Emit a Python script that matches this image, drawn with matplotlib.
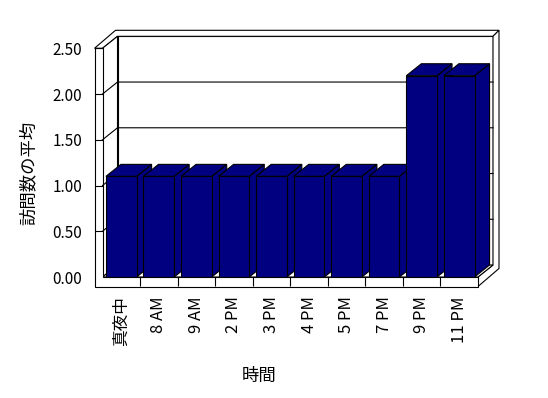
import numpy as np
import matplotlib.pyplot as plt
from matplotlib.patches import Polygon

plt.rcParams['font.family'] = ['Noto Sans CJK JP', 'DejaVu Sans']

# data
hours = ['真夜中', '8 AM', '9 AM', '2 PM', '3 PM', '4 PM', '5 PM', '7 PM', '9 PM', '11 PM']
avg_visits = [1.1, 1.1, 1.1, 1.1, 1.1, 1.1, 1.1, 1.1, 2.2, 2.2]
y_ticks = [0.0, 0.5, 1.0, 1.5, 2.0, 2.5]
y_labels = ['0.00', '0.50', '1.00', '1.50', '2.00', '2.50']

navy = '#000080'
lw = 0.8

fig = plt.figure(figsize=(5.48, 3.98), dpi=100)
ax = fig.add_axes([102.5 / 548, 121 / 398, 375.5 / 548, 228.7 / 398])
n = len(hours)
x0, x1 = -0.5, n - 0.5
top = y_ticks[-1]
ax.set_xlim(x0, x1)
ax.set_ylim(0, top)

# pseudo 3D offsets, converted from pixels to data units
sx = 375.5 / n
sy = 228.7 / top
d1x, d1y = 15 / sx, 12 / sy    # back wall, inner face
d2x, d2y = 21 / sx, 18 / sy    # back wall, outer face
wt = 8 / sx                    # side wall thickness
ft = 9.5 / sy                  # floor thickness


def poly(pts, fc='white', z=1):
    p = Polygon(pts, closed=True, facecolor=fc, edgecolor='black',
                linewidth=lw, zorder=z, clip_on=False)
    ax.add_patch(p)


# walls and floor
poly([(x0 + d1x, d1y), (x1 + d1x, d1y), (x1 + d1x, top + d1y), (x0 + d1x, top + d1y)])
poly([(x0 - wt, top), (x0, top), (x0 + d1x, top + d1y), (x1 + d1x, top + d1y),
      (x1 + d2x, top + d2y), (x0 - wt + d2x, top + d2y)])
poly([(x1 + d1x, top + d1y), (x1 + d2x, top + d2y), (x1 + d2x, -ft + d2y),
      (x1, -ft), (x1, 0), (x1 + d1x, d1y)])
poly([(x0, 0), (x0, top), (x0 + d1x, top + d1y), (x0 + d1x, d1y)])
poly([(x0, 0), (x1, 0), (x1 + d1x, d1y), (x0 + d1x, d1y)])
poly([(x0 - wt, -ft), (x1, -ft), (x1, 0), (x0, 0), (x0, top), (x0 - wt, top)])

# gridlines on the side and back walls
for v in y_ticks[1:-1]:
    ax.plot([x0, x0 + d1x, x1 + d1x], [v, v + d1y, v + d1y],
            color='black', linewidth=lw, zorder=1.2, clip_on=False)

# bars, drawn left to right so the right neighbour hides the side face
bw = 0.817
bars = ax.bar(range(n), avg_visits, width=bw, color=navy, edgecolor='black', linewidth=lw)
for i, (b, v) in enumerate(zip(bars, avg_visits)):
    z = 3 + i * 0.1
    b.set_zorder(z + 0.05)
    xl = i - bw / 2
    xr = i + bw / 2
    poly([(xr, 0), (xr + d1x, d1y), (xr + d1x, v + d1y), (xr, v)], fc=navy, z=z)
    poly([(xl, v), (xr, v), (xr + d1x, v + d1y), (xl + d1x, v + d1y)], fc=navy, z=z)

for s in ax.spines.values():
    s.set_visible(False)
ax.patch.set_visible(False)

ax.set_yticks(y_ticks, y_labels)
ax.tick_params(axis='y', direction='out', length=5.8, width=lw, pad=9, labelsize=11)
ax.yaxis.get_major_ticks()[0].tick1line.set_visible(False)

ax.set_xticks(range(n), hours, rotation=90, va='top')
ax.set_xticks(np.arange(0.5, n - 1, 1.0), minor=True)
ax.tick_params(axis='x', which='major', length=0, pad=14, labelsize=12)
ax.tick_params(axis='x', which='minor', direction='out', length=6.8, width=lw)

ax.text(-0.196, 0.455, '訪問数の平均', transform=ax.transAxes, rotation=90,
        ha='center', va='center', fontsize=12.5)
ax.text(0.417, -0.433, '時間', transform=ax.transAxes,
        ha='center', va='center', fontsize=12.5)

fig.savefig('out.png', dpi=100)
